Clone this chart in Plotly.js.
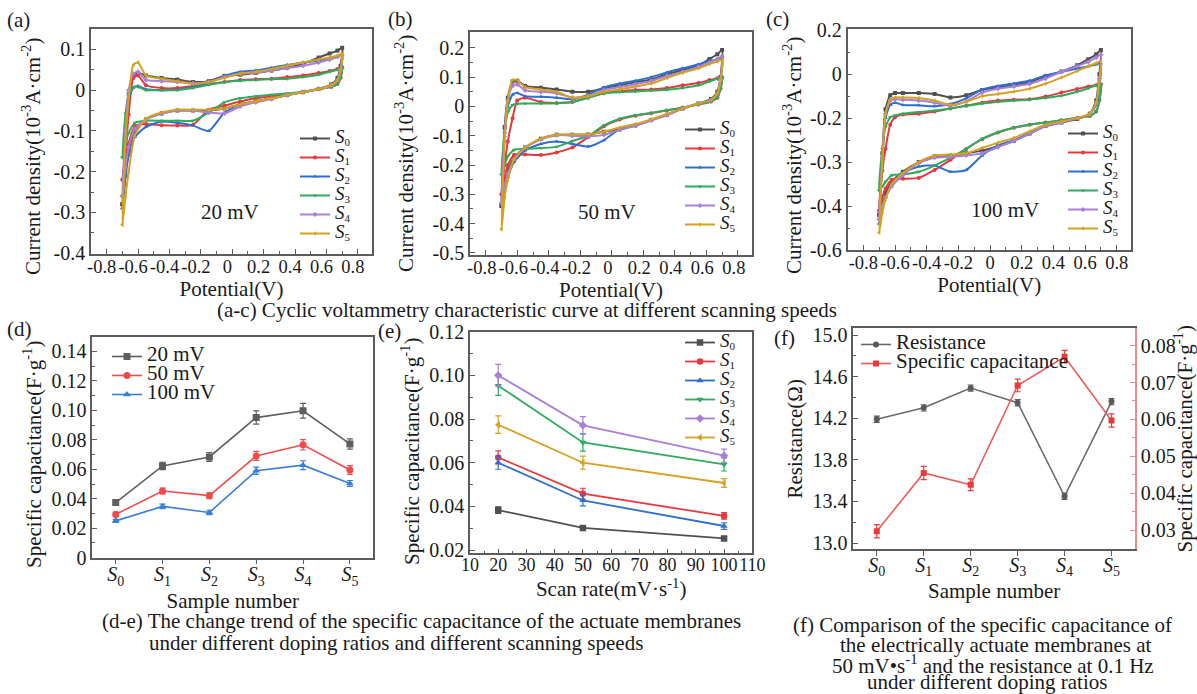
<!DOCTYPE html>
<html><head><meta charset="utf-8">
<script src="https://cdn.plot.ly/plotly-3.0.1.min.js"></script>
<style>body{margin:0;background:#fff}#chart{width:1197px;height:694px}</style>
</head><body><div id="chart"></div>
<script>
const W = 1197, H = 694;
const FONT = 'Liberation Serif, Times New Roman, serif';

// ---------- shared CV potentials ----------
const cvXUp   = [-0.70,-0.68,-0.66,-0.63,-0.60,-0.55,-0.45,-0.35,-0.25,-0.15,-0.05,0.05,0.15,0.25,0.35,0.45,0.55,0.62,0.67,0.70];
const cvXDown = [0.69,0.67,0.63,0.55,0.45,0.35,0.25,0.15,0.05,-0.05,-0.15,-0.25,-0.35,-0.45,-0.55,-0.62,-0.66,-0.68,-0.70];

// ---------- (a) 20 mV ----------
const a_S0_up = [-0.28,-0.12,-0.01,0.035,0.042,0.036,0.030,0.026,0.020,0.022,0.035,0.038,0.042,0.048,0.055,0.065,0.080,0.090,0.097,0.104];
const a_S0_dn = [0.060,0.030,0.014,0.003,-0.005,-0.012,-0.020,-0.027,-0.035,-0.045,-0.050,-0.050,-0.050,-0.057,-0.072,-0.100,-0.150,-0.210,-0.28];
const a_S1_up = [-0.22,-0.15,-0.06,0.030,0.036,0.012,0.005,0.005,0.010,0.015,0.020,0.025,0.027,0.028,0.032,0.036,0.042,0.047,0.052,0.056];
const a_S1_dn = [0.030,0.015,0.008,0.002,-0.005,-0.010,-0.015,-0.020,-0.028,-0.038,-0.048,-0.085,-0.087,-0.086,-0.083,-0.088,-0.130,-0.170,-0.22];
const a_S2_up = [-0.29,-0.12,-0.02,0.006,0.010,0.002,0.000,0.001,0.008,0.018,0.035,0.045,0.048,0.055,0.062,0.068,0.072,0.077,0.082,0.088];
const a_S2_dn = [0.050,0.025,0.012,0.003,-0.005,-0.012,-0.020,-0.028,-0.035,-0.055,-0.100,-0.087,-0.080,-0.077,-0.090,-0.115,-0.160,-0.210,-0.29];
const a_S3_up = [-0.165,-0.057,-0.010,0.008,0.008,0.000,0.000,0.000,0.005,0.013,0.020,0.023,0.025,0.027,0.028,0.032,0.038,0.045,0.050,0.055];
const a_S3_dn = [0.030,0.015,0.008,0.002,-0.004,-0.008,-0.011,-0.015,-0.020,-0.030,-0.055,-0.075,-0.075,-0.075,-0.075,-0.080,-0.105,-0.130,-0.165];
const a_S4_up = [-0.26,-0.10,0.000,0.040,0.045,0.025,0.022,0.020,0.017,0.020,0.032,0.040,0.043,0.048,0.054,0.060,0.068,0.075,0.082,0.087];
const a_S4_dn = [0.050,0.025,0.012,0.003,-0.005,-0.012,-0.022,-0.030,-0.040,-0.057,-0.055,-0.050,-0.050,-0.058,-0.072,-0.095,-0.140,-0.190,-0.26];
const a_S5_up = [-0.33,-0.12,-0.02,0.062,0.068,0.036,0.028,0.022,0.015,0.020,0.030,0.040,0.045,0.052,0.060,0.068,0.075,0.080,0.085,0.089];
const a_S5_dn = [0.050,0.025,0.012,0.003,-0.005,-0.012,-0.020,-0.027,-0.035,-0.045,-0.048,-0.048,-0.048,-0.055,-0.070,-0.110,-0.200,-0.260,-0.33];

// ---------- (b) 50 mV ----------
const b_S0_up = [-0.34,-0.07,0.03,0.085,0.088,0.070,0.064,0.058,0.050,0.050,0.062,0.072,0.083,0.092,0.110,0.125,0.140,0.162,0.178,0.193];
const b_S0_dn = [0.10,0.05,0.025,0.010,-0.007,-0.028,-0.046,-0.065,-0.078,-0.086,-0.096,-0.097,-0.097,-0.110,-0.140,-0.175,-0.220,-0.270,-0.34];
const b_S1_up = [-0.30,-0.20,-0.12,-0.04,0.020,0.030,0.015,0.012,0.015,0.030,0.045,0.052,0.056,0.058,0.063,0.072,0.080,0.090,0.096,0.100];
const b_S1_dn = [0.06,0.03,0.017,0.007,-0.004,-0.014,-0.023,-0.032,-0.045,-0.068,-0.105,-0.140,-0.157,-0.166,-0.164,-0.165,-0.200,-0.250,-0.30];
const b_S2_up = [-0.33,-0.10,0.00,0.040,0.046,0.035,0.033,0.030,0.025,0.040,0.065,0.078,0.088,0.100,0.116,0.130,0.143,0.155,0.160,0.165];
const b_S2_dn = [0.09,0.045,0.022,0.010,-0.007,-0.028,-0.046,-0.065,-0.078,-0.115,-0.137,-0.128,-0.120,-0.128,-0.150,-0.190,-0.240,-0.280,-0.33];
const b_S3_up = [-0.233,-0.08,-0.02,0.005,0.009,0.010,0.010,0.011,0.015,0.030,0.045,0.049,0.051,0.054,0.057,0.063,0.072,0.085,0.094,0.100];
const b_S3_dn = [0.06,0.03,0.017,0.007,-0.004,-0.013,-0.022,-0.030,-0.042,-0.065,-0.100,-0.118,-0.138,-0.142,-0.145,-0.148,-0.170,-0.200,-0.233];
const b_S4_up = [-0.33,-0.09,0.02,0.070,0.075,0.055,0.050,0.045,0.030,0.035,0.056,0.066,0.076,0.087,0.104,0.118,0.135,0.150,0.162,0.171];
const b_S4_dn = [0.09,0.045,0.022,0.010,-0.007,-0.030,-0.048,-0.065,-0.080,-0.097,-0.102,-0.100,-0.098,-0.112,-0.140,-0.180,-0.230,-0.270,-0.33];
const b_S5_up = [-0.419,-0.12,0.02,0.090,0.090,0.066,0.058,0.050,0.030,0.035,0.050,0.058,0.068,0.078,0.097,0.115,0.130,0.145,0.153,0.159];
const b_S5_dn = [0.09,0.045,0.022,0.010,-0.007,-0.026,-0.044,-0.060,-0.072,-0.086,-0.095,-0.096,-0.097,-0.110,-0.140,-0.180,-0.250,-0.310,-0.419];

// ---------- (c) 100 mV (values on the evenly spaced axis, labels as printed) ----------
const c_S0_up = [-0.42,-0.28,-0.18,-0.148,-0.143,-0.143,-0.143,-0.145,-0.153,-0.148,-0.136,-0.130,-0.125,-0.118,-0.105,-0.094,-0.080,-0.066,-0.055,-0.045];
const c_S0_dn = [-0.10,-0.16,-0.19,-0.202,-0.210,-0.218,-0.235,-0.252,-0.264,-0.274,-0.280,-0.285,-0.287,-0.300,-0.322,-0.345,-0.370,-0.395,-0.42];
const c_S1_up = [-0.41,-0.32,-0.27,-0.215,-0.198,-0.192,-0.190,-0.185,-0.178,-0.172,-0.165,-0.160,-0.158,-0.157,-0.151,-0.142,-0.134,-0.128,-0.125,-0.123];
const c_S1_dn = [-0.16,-0.185,-0.195,-0.200,-0.205,-0.210,-0.215,-0.222,-0.233,-0.248,-0.270,-0.295,-0.318,-0.336,-0.338,-0.340,-0.360,-0.380,-0.41];
const c_S2_up = [-0.44,-0.30,-0.20,-0.170,-0.165,-0.170,-0.171,-0.173,-0.168,-0.155,-0.135,-0.127,-0.121,-0.115,-0.103,-0.095,-0.087,-0.082,-0.078,-0.075];
const c_S2_dn = [-0.13,-0.17,-0.19,-0.200,-0.210,-0.218,-0.235,-0.250,-0.262,-0.285,-0.318,-0.322,-0.308,-0.310,-0.325,-0.350,-0.380,-0.405,-0.44];
const c_S3_up = [-0.365,-0.27,-0.22,-0.198,-0.194,-0.190,-0.186,-0.183,-0.178,-0.172,-0.167,-0.163,-0.160,-0.158,-0.154,-0.149,-0.140,-0.132,-0.126,-0.123];
const c_S3_dn = [-0.16,-0.185,-0.195,-0.200,-0.205,-0.210,-0.215,-0.222,-0.232,-0.247,-0.270,-0.290,-0.308,-0.322,-0.328,-0.330,-0.345,-0.355,-0.365];
const c_S4_up = [-0.43,-0.29,-0.19,-0.160,-0.157,-0.158,-0.160,-0.165,-0.172,-0.162,-0.142,-0.133,-0.128,-0.122,-0.110,-0.095,-0.082,-0.072,-0.062,-0.056];
const c_S4_dn = [-0.11,-0.165,-0.19,-0.200,-0.210,-0.218,-0.236,-0.252,-0.266,-0.280,-0.285,-0.288,-0.290,-0.302,-0.330,-0.355,-0.380,-0.400,-0.43];
const c_S5_up = [-0.46,-0.30,-0.19,-0.158,-0.153,-0.153,-0.154,-0.160,-0.170,-0.163,-0.150,-0.145,-0.140,-0.133,-0.122,-0.108,-0.093,-0.082,-0.075,-0.071];
const c_S5_dn = [-0.12,-0.165,-0.19,-0.200,-0.208,-0.215,-0.230,-0.245,-0.256,-0.268,-0.280,-0.283,-0.285,-0.300,-0.325,-0.350,-0.385,-0.415,-0.46];

// ---------- (d) specific capacitance vs sample ----------
const sampleIdx = [0,1,2,3,4,5];
const sampleText = ['<i>S</i><sub>0</sub>','<i>S</i><sub>1</sub>','<i>S</i><sub>2</sub>','<i>S</i><sub>3</sub>','<i>S</i><sub>4</sub>','<i>S</i><sub>5</sub>'];
const d_20  = [0.0374,0.0623,0.0684,0.0951,0.0997,0.0772];
const d_50  = [0.0294,0.0453,0.0421,0.0691,0.0766,0.0595];
const d_100 = [0.0250,0.0348,0.0307,0.0590,0.0628,0.0504];
const d_20_err  = [0.0015,0.0025,0.0030,0.0045,0.0050,0.0035];
const d_50_err  = [0.0015,0.0020,0.0020,0.0030,0.0035,0.0030];
const d_100_err = [0.0010,0.0015,0.0015,0.0025,0.0030,0.0020];
const d_names = ['20 mV','50 mV','100 mV'];

// ---------- (e) specific capacitance vs scan rate ----------
const scanRates = [20,50,100];
const e_S0 = [0.0383,0.0301,0.0253];
const e_S1 = [0.0624,0.0458,0.0356];
const e_S2 = [0.0600,0.0427,0.0310];
const e_S3 = [0.0953,0.0693,0.0592];
const e_S4 = [0.1000,0.0771,0.0632];
const e_S5 = [0.0774,0.0600,0.0507];
const e_S0_err = [0.0015,0.0010,0.0008];
const e_S1_err = [0.0030,0.0025,0.0015];
const e_S2_err = [0.0030,0.0025,0.0015];
const e_S3_err = [0.0045,0.0040,0.0030];
const e_S4_err = [0.0050,0.0040,0.0030];
const e_S5_err = [0.0040,0.0030,0.0020];

// ---------- (f) resistance and capacitance ----------
const f_names = ['Resistance','Specific capacitance'];
const f_res = [14.19,14.30,14.49,14.35,13.45,14.36];
const f_res_err = [0.03,0.03,0.03,0.03,0.03,0.03];
const f_cap = [0.0297,0.0455,0.0423,0.0692,0.0770,0.0597];
const f_cap_err = [0.0018,0.0018,0.0016,0.0017,0.0017,0.0018];

// ---------- tick labels ----------
const cvXTickVals = [-0.8,-0.6,-0.4,-0.2,0,0.2,0.4,0.6,0.8];
const cvXTickText = ['-0.8','-0.6','-0.4','-0.2','0','0.2','0.4','0.6','0.8'];
const aYTickVals = [0.1,0,-0.1,-0.2,-0.3,-0.4];
const aYTickText = ['0.1','0','-0.1','-0.2','-0.3','-0.4'];
const bYTickVals = [0.2,0.1,0,-0.1,-0.2,-0.3,-0.4,-0.5];
const bYTickText = ['0.2','0.1','0','-0.1','-0.2','-0.3','-0.4','-0.5'];
const cYTickVals = [0,-0.1,-0.2,-0.3,-0.4,-0.5];
const cYTickText = ['0.2','0','-0.2','-0.3','-0.4','-0.6'];
const dYTickVals = [0,0.02,0.04,0.06,0.08,0.10,0.12,0.14];
const dYTickText = ['0','0.02','0.04','0.06','0.08','0.10','0.12','0.14'];
const eYTickVals = [0.02,0.04,0.06,0.08,0.10,0.12];
const eYTickText = ['0.02','0.04','0.06','0.08','0.10','0.12'];
const eXTickVals = [10,20,30,40,50,60,70,80,90,100,110];
const fYTickVals = [13.0,13.4,13.8,14.2,14.6,15.0];
const fYTickText = ['13.0','13.4','13.8','14.2','14.6','15.0'];
const fY2TickVals = [0.03,0.04,0.05,0.06,0.07,0.08];
const fY2TickText = ['0.03','0.04','0.05','0.06','0.07','0.08'];

// ---------- styles ----------
const colS = ['#505050','#e8383d','#2f6fcf','#2faa5f','#a880d8','#d4a220'];
const symS = ['square','circle','triangle-up','triangle-down','diamond','triangle-left'];
const big = (t, s) => '<span style="font-size:' + s + 'px">' + t + '</span>';
const legName = (t, s) => big(t.replace('<sub>', '</span><sub><span style="font-size:11px">').replace('</sub>', '</span></sub><span>'), s);
const cvNames = sampleText.map(t => legName(t, 19));

const px = v => v / W;
const py = v => 1 - v / H;
const axName = (p, n) => n === 1 ? p : p + n;

const traces = [];
const cvSets = [
  [[a_S0_up,a_S0_dn],[a_S1_up,a_S1_dn],[a_S2_up,a_S2_dn],[a_S3_up,a_S3_dn],[a_S4_up,a_S4_dn],[a_S5_up,a_S5_dn]],
  [[b_S0_up,b_S0_dn],[b_S1_up,b_S1_dn],[b_S2_up,b_S2_dn],[b_S3_up,b_S3_dn],[b_S4_up,b_S4_dn],[b_S5_up,b_S5_dn]],
  [[c_S0_up,c_S0_dn],[c_S1_up,c_S1_dn],[c_S2_up,c_S2_dn],[c_S3_up,c_S3_dn],[c_S4_up,c_S4_dn],[c_S5_up,c_S5_dn]]
];
cvSets.forEach((set, p) => {
  const n = p + 1;
  set.forEach((br, i) => {
    traces.push({
      x: cvXUp.concat(cvXDown), y: br[0].concat(br[1]),
      xaxis: axName('x', n), yaxis: axName('y', n),
      legend: axName('legend', n), name: cvNames[i],
      mode: 'lines+markers',
      line: {color: colS[i], width: 2, shape: 'spline', smoothing: 0.6},
      marker: {symbol: symS[i], size: 4, color: colS[i]}
    });
  });
});

// (d)
const dCols = ['#5e5e5e','#ef4b4b','#3a7fd5'];
[[d_20,d_20_err],[d_50,d_50_err],[d_100,d_100_err]].forEach((s, i) => {
  traces.push({
    x: sampleIdx, y: s[0], xaxis: 'x4', yaxis: 'y4', legend: 'legend4', name: big(d_names[i], 21),
    mode: 'lines+markers', line: {color: dCols[i], width: 1.6},
    marker: {symbol: symS[i], size: 7, color: dCols[i]},
    error_y: {type: 'data', array: s[1], visible: true, color: dCols[i], thickness: 1.2, width: 3}
  });
});
// (e)
[[e_S0,e_S0_err],[e_S1,e_S1_err],[e_S2,e_S2_err],[e_S3,e_S3_err],[e_S4,e_S4_err],[e_S5,e_S5_err]].forEach((s, i) => {
  traces.push({
    x: scanRates, y: s[0], xaxis: 'x5', yaxis: 'y5', legend: 'legend5', name: cvNames[i],
    mode: 'lines+markers', line: {color: colS[i], width: 1.8},
    marker: {symbol: symS[i], size: 6.5, color: colS[i]},
    error_y: {type: 'data', array: s[1], visible: true, color: colS[i], thickness: 1.2, width: 3}
  });
});
// (f)
traces.push({
  x: sampleIdx, y: f_res, xaxis: 'x6', yaxis: 'y6', legend: 'legend6', name: big(f_names[0], 21),
  mode: 'lines+markers', line: {color: '#6a6a6a', width: 1.6},
  marker: {symbol: 'circle', size: 6, color: '#5a5a5a'},
  error_y: {type: 'data', array: f_res_err, visible: true, color: '#5a5a5a', thickness: 1.2, width: 3}
});
traces.push({
  x: sampleIdx, y: f_cap, xaxis: 'x6', yaxis: 'y7', legend: 'legend6', name: big(f_names[1], 21),
  mode: 'lines+markers', line: {color: '#f05a5a', width: 1.6},
  marker: {symbol: 'square', size: 6, color: '#e83a3a'},
  error_y: {type: 'data', array: f_cap_err, visible: true, color: '#e83a3a', thickness: 1.2, width: 3}
});

const yTickFont = {family: FONT, size: 20, color: '#1a1a1a'};
const xTickFont = {family: FONT, size: 18.5, color: '#1a1a1a'};
const eXTickFont = {family: FONT, size: 18, color: '#1a1a1a'};
const catTickFont = {family: FONT, size: 20, color: '#1a1a1a'};
const titleFont = {family: FONT, size: 21, color: '#1a1a1a'};
function ax(o) {
  return Object.assign({
    showline: true, linecolor: '#5c5c5c', linewidth: 1.5, mirror: true,
    ticks: 'inside', ticklen: 5, tickwidth: 1.2, tickcolor: '#5c5c5c',
    showgrid: false, zeroline: false, tickfont: yTickFont, tickmode: 'array', tickangle: 0,
    fixedrange: true
  }, o);
}
const minor = (d, t0) => ({ticks: 'inside', ticklen: 3, tickwidth: 1, tickcolor: '#5c5c5c', dtick: d, tick0: t0, tickmode: 'linear'});
const cvTitleY = 'Current density(10<sup>-3</sup>A·cm<sup>-2</sup>)';
const capTitle = 'Specific capacitance(F·g<sup>-1</sup>)';

const legendBase = {bgcolor: 'rgba(0,0,0,0)', borderwidth: 0, xanchor: 'left', yanchor: 'top', tracegroupgap: 0,
  font: {family: FONT, size: 12, color: '#1a1a1a'}};
const L = (x, y) => Object.assign({}, legendBase, {x: px(x), y: py(y)});

const layout = {
  width: W, height: H, margin: {l: 0, r: 0, t: 0, b: 0},
  paper_bgcolor: '#fff', plot_bgcolor: '#fff', showlegend: true,
  font: {family: FONT, color: '#1a1a1a'},
  // (a)
  xaxis: ax({domain: [px(91), px(372)], anchor: 'y', range: [-0.9, 0.89], tickvals: cvXTickVals, ticktext: cvXTickText,
    tickfont: xTickFont, minor: minor(0.1, 0), ticklabelshift: -5, ticklabelstandoff: -5,
    title: {text: 'Potential(V)', font: titleFont, standoff: 3}}),
  yaxis: ax({domain: [py(254), py(29)], anchor: 'x', range: [-0.402, 0.15], tickvals: aYTickVals, ticktext: aYTickText,
    minor: minor(0.05, 0)}),
  // (b)
  xaxis2: ax({domain: [px(470), px(752)], anchor: 'y2', range: [-0.9, 0.89], tickvals: cvXTickVals, ticktext: cvXTickText,
    tickfont: xTickFont, minor: minor(0.1, 0), ticklabelshift: -4, ticklabelstandoff: -5,
    title: {text: 'Potential(V)', font: titleFont, standoff: 3}}),
  yaxis2: ax({domain: [py(255), py(32.3)], anchor: 'x2', range: [-0.507, 0.253], tickvals: bYTickVals, ticktext: bYTickText,
    minor: minor(0.05, 0)}),
  // (c)
  xaxis3: ax({domain: [px(847.5), px(1131)], anchor: 'y3', range: [-0.9, 0.89], tickvals: cvXTickVals, ticktext: cvXTickText,
    tickfont: xTickFont, minor: minor(0.1, 0), ticklabelstandoff: -5,
    title: {text: 'Potential(V)', font: titleFont, standoff: 5}}),
  yaxis3: ax({domain: [py(250), py(29.3)], anchor: 'x3', range: [-0.5, 0.002], tickvals: cYTickVals, ticktext: cYTickText,
    minor: minor(0.05, 0)}),
  // (d)
  xaxis4: ax({domain: [px(92.3), px(373.3)], anchor: 'y4', range: [-0.5, 5.5], tickvals: sampleIdx, ticktext: sampleText,
    tickfont: catTickFont, ticks: 'outside', ticklabelstandoff: -7,
    title: {text: 'Sample number', font: titleFont, standoff: 0}}),
  yaxis4: ax({domain: [py(557.7), py(336.7)], anchor: 'x4', range: [0, 0.15], tickvals: dYTickVals, ticktext: dYTickText,
    minor: minor(0.01, 0)}),
  // (e)
  xaxis5: ax({domain: [px(470), px(752.3)], anchor: 'y5', range: [10, 110], tickvals: eXTickVals,
    tickfont: eXTickFont, minor: minor(5, 0), ticklabelstandoff: -6,
    title: {text: 'Scan rate(mV·s<sup>-1</sup>)', font: titleFont, standoff: 6}}),
  yaxis5: ax({domain: [py(553.3), py(331.7)], anchor: 'x5', range: [0.0185, 0.12], tickvals: eYTickVals, ticktext: eYTickText,
    minor: minor(0.01, 0)}),
  // (f)
  xaxis6: ax({domain: [px(853.3), px(1135)], anchor: 'y6', range: [-0.5, 5.5], tickvals: sampleIdx, ticktext: sampleText,
    tickfont: catTickFont, ticks: 'outside', ticklabelstandoff: -8,
    title: {text: 'Sample number', font: titleFont, standoff: 3}}),
  yaxis6: ax({domain: [py(549.3), py(328.3)], anchor: 'x6', range: [12.94, 15.065], tickvals: fYTickVals, ticktext: fYTickText,
    mirror: false, minor: minor(0.2, 13), title: {text: 'Resistance(Ω)', font: titleFont, standoff: 4}}),
  yaxis7: ax({overlaying: 'y6', side: 'right', anchor: 'x6', range: [0.0248, 0.0847], tickvals: fY2TickVals, ticktext: fY2TickText,
    linecolor: '#f08a8a', tickcolor: '#f08a8a', mirror: false,
    minor: Object.assign(minor(0.005, 0.03), {tickcolor: '#f08a8a'}),
    title: {text: capTitle, font: titleFont, standoff: 2}}),
  legend:  L(295, 124),
  legend2: L(680, 115),
  legend3: L(1063, 119),
  legend4: L(107, 342),
  legend5: L(680, 328),
  legend6: L(856, 330),
  annotations: []
};

const ann = (text, x, y, size, angle) => ({text: text, x: px(x), y: py(y), xref: 'paper', yref: 'paper',
  showarrow: false, xanchor: 'center', yanchor: 'middle', textangle: angle || 0,
  font: {family: FONT, size: size || 21, color: '#1a1a1a'}});
layout.annotations.push(
  // y-axis titles of (a)-(e), placed where the reference prints them
  ann(cvTitleY, 32, 157, 21, -90), ann(cvTitleY, 404, 154, 21, -90), ann(cvTitleY, 793, 156, 21, -90),
  ann(capTitle, 33, 455, 21, -90), ann(capTitle, 410, 452, 21, -90),
  // panel letters and in-plot labels
  ann('(a)', 18, 20), ann('(b)', 400, 19), ann('(c)', 777, 19),
  ann('(d)', 19, 329), ann('(e)', 389, 331), ann('(f)', 784, 338),
  ann('20 mV', 230, 212), ann('50 mV', 607, 212), ann('100 mV', 1005, 210),
  // captions
  ann('(a-c) Cyclic voltammetry characteristic curve at different scanning speeds', 527, 310),
  ann('(d-e) The change trend of the specific capacitance of the actuate membranes', 421, 621),
  ann('under different doping ratios and different scanning speeds', 396, 643),
  ann('(f) Comparison of the specific capacitance of', 982, 625),
  ann('the electrically actuate membranes at', 995, 645),
  ann('50 mV•s<sup>-1</sup> and the resistance at 0.1 Hz', 993, 664),
  ann('under different doping ratios', 987, 682)
);

Plotly.newPlot('chart', traces, layout, {displayModeBar: false, responsive: false});
</script></body></html>
